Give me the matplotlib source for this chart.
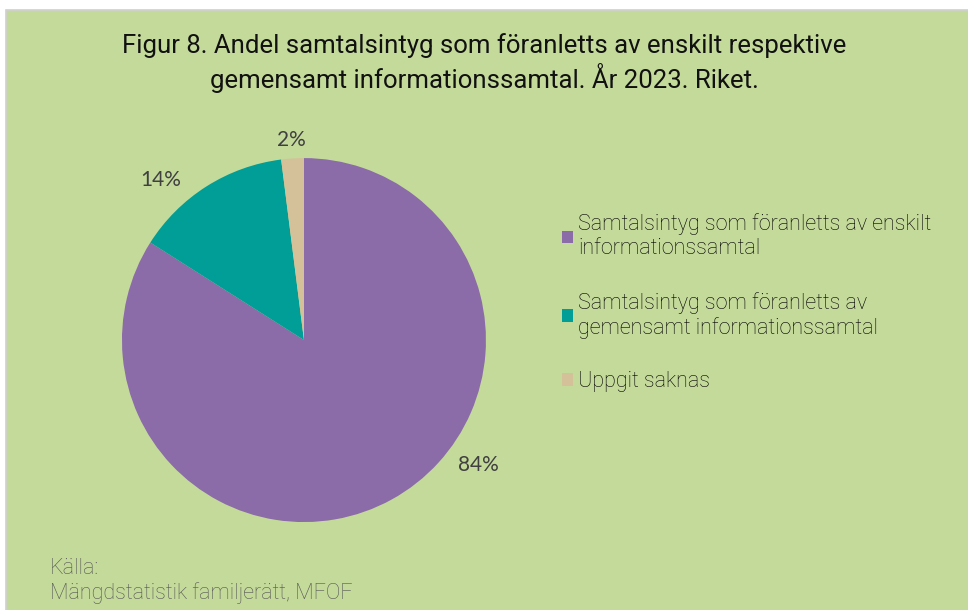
import matplotlib
matplotlib.use("Agg")
import matplotlib.pyplot as plt
from matplotlib.patches import Rectangle, Patch
import numpy as np

categories = [
    "Samtalsintyg som föranletts av enskilt\ninformationssamtal",
    "Samtalsintyg som föranletts av\ngemensamt informationssamtal",
    "Uppgit saknas",
]
shares = [84, 14, 2]
colors = ["#8B6BA8", "#009E96", "#D4C19A"]
title = "Figur 8. Andel samtalsintyg som föranletts av enskilt respektive\ngemensamt informationssamtal. År 2023. Riket."
source = "Källa:\nMängdstatistik familjerätt, MFOF"

BG = "#C4DA9A"

fig = plt.figure(figsize=(9.68, 6.10), dpi=100)
fig.patch.set_facecolor("white")
# green panel with thin grey edge
fig.patches.append(Rectangle((6 / 968, -0.01), 1, 1.01 - 10 / 610, transform=fig.transFigure,
                             facecolor=BG, edgecolor="#D0D0D0", linewidth=1.2, zorder=-5))

ax = fig.add_axes([0.126, 0.144, 0.376, 0.597])
ax.set_zorder(2)
ax.patch.set_visible(False)
wedges, _ = ax.pie(shares, colors=colors, startangle=90, counterclock=False,
                   wedgeprops=dict(linewidth=0))
ax.set_aspect("equal")
ax.set_xlim(-1, 1)
ax.set_ylim(-1, 1)

# percentage labels, placed near each slice (best-fit like the original)
label_pos = [(-35.7, 1.18), (132.0, 1.18), (93.7, 1.10)]
for share, (ang, dist) in zip(shares, label_pos):
    a = np.deg2rad(ang)
    ax.text(dist * np.cos(a), dist * np.sin(a), f"{share}%", ha="center", va="center",
            fontsize=15, color="#404040", family="Lato", fontweight="normal", clip_on=False)

fig.text(0.5, 0.896, title, ha="center", va="center", fontsize=18.5,
         family="Roboto", color="#111111", linespacing=1.2)

handles = [Patch(facecolor=c, edgecolor="none") for c in colors]
fig.legend(handles, categories, loc="upper left", bbox_to_anchor=(0.5806, 0.650),
           frameon=False, handlelength=0.5, handleheight=0.5,
           handletextpad=0.25, labelspacing=1.5, borderpad=0, borderaxespad=0,
           prop=dict(family="Roboto", weight="light", size=15.5))

fig.text(50 / 968, 1 - 581 / 610, source, ha="left", va="center", fontsize=15.5,
         family="Roboto", fontweight="light", color="#555555", linespacing=1.15)

fig.savefig("out.png", dpi=100, facecolor=fig.get_facecolor())
